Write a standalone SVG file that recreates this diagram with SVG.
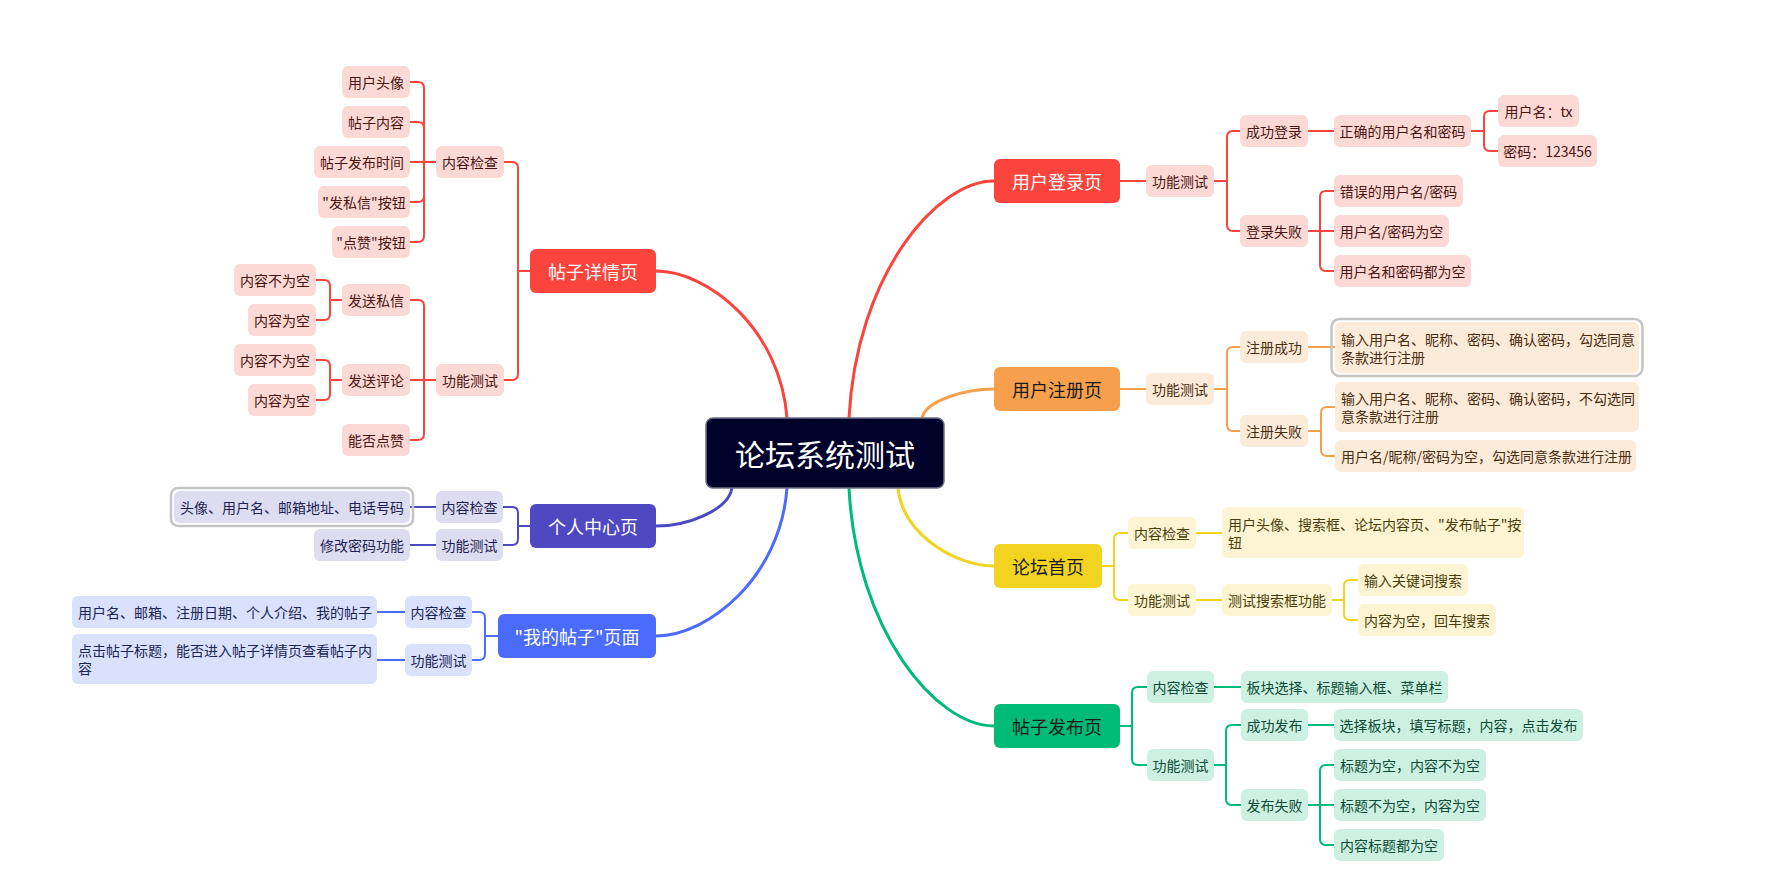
<svg xmlns="http://www.w3.org/2000/svg" width="1766" height="876" viewBox="0 0 1766 876">
<style>
text{font-family:"Noto Sans CJK SC","Noto Sans",sans-serif;dominant-baseline:central}
.t{font-size:14px}
.tb{font-size:18px;text-anchor:middle}
.c{text-anchor:middle}
.ln{fill:none;stroke-width:2;stroke-linecap:round;stroke-linejoin:round}
.cv{fill:none;stroke-width:3;stroke-linecap:round}
.sr{stroke:#fa443c}.so{stroke:#f6a04d}.sy{stroke:#f2d320}.sg{stroke:#00ba78}.sp{stroke:#4e49c0}.sb{stroke:#4a6bfc}
.rb{fill:#fa443c}.rc{fill:#fdd9d6}.rt{fill:#4a1410}
.ob{fill:#f6a04d}.oc{fill:#fdebd9}.ot{fill:#4a2c10}
.yb{fill:#f2d320}.yc{fill:#fcf4d2}.yt{fill:#4a3d0c}
.gb{fill:#00ba78}.gc{fill:#ccf0e2}.gt{fill:#0e4a34}
.pb{fill:#4e49c0}.pc{fill:#dddcf1}.pt{fill:#221f52}
.bb{fill:#4a6bfc}.bc{fill:#d9e1fd}.bt{fill:#1b2552}
.w{fill:#ffffff}.k{fill:#1a1a1a}
.sel{fill:none;stroke:#c4c4c4;stroke-width:2.5}
</style>
<rect width="1766" height="876" fill="#ffffff"/>
<g id="connectors">
<path class="cv sr" d="M787,418 C780.5,329.8 708.4,271 656,271"/>
<path class="cv sr" d="M849,418 C856.3,275.8 936,181 994,181"/>
<path class="cv so" d="M922,418 C925.6,400.6 965.2,389 994,389"/>
<path class="cv sy" d="M898,488 C902.8,534.8 955.6,566 994,566"/>
<path class="cv sg" d="M849,488 C856.3,630.8 936,726 994,726"/>
<path class="cv sp" d="M732,488 C728.2,510.8 686.4,526 656,526"/>
<path class="cv sb" d="M787,488 C780.5,576.8 708.4,636 656,636"/>

<path class="ln sr" d="M1120,181 H1146"/>
<path class="ln sr" d="M1214,181 H1227 V137 Q1227,131 1233,131 H1240"/>
<path class="ln sr" d="M1214,181 H1227 V225 Q1227,231 1233,231 H1240"/>
<path class="ln sr" d="M1308,131 H1334"/>
<path class="ln sr" d="M1471,131 H1484 V117 Q1484,111 1490,111 H1498"/>
<path class="ln sr" d="M1471,131 H1484 V145 Q1484,151 1490,151 H1498"/>
<path class="ln sr" d="M1308,231 H1320 V197 Q1320,191 1326,191 H1334"/>
<path class="ln sr" d="M1308,231 H1334"/>
<path class="ln sr" d="M1308,231 H1320 V265 Q1320,271 1326,271 H1334"/>

<path class="ln so" d="M1120,389 H1146"/>
<path class="ln so" d="M1214,389 H1227 V353 Q1227,347 1233,347 H1240"/>
<path class="ln so" d="M1214,389 H1227 V425 Q1227,431 1233,431 H1240"/>
<path class="ln so" d="M1308,347 H1335"/>
<path class="ln so" d="M1308,431 H1321 V413 Q1321,407 1327,407 H1335"/>
<path class="ln so" d="M1308,431 H1321 V450 Q1321,456 1327,456 H1335"/>

<path class="ln sy" d="M1102,566 H1114 V539 Q1114,533 1120,533 H1128"/>
<path class="ln sy" d="M1102,566 H1114 V594 Q1114,600 1120,600 H1128"/>
<path class="ln sy" d="M1196,533 H1222"/>
<path class="ln sy" d="M1196,600 H1222"/>
<path class="ln sy" d="M1332,600 H1344 V586 Q1344,580 1350,580 H1358"/>
<path class="ln sy" d="M1332,600 H1344 V614 Q1344,620 1350,620 H1358"/>

<path class="ln sg" d="M1120,726 H1132 V693 Q1132,687 1138,687 H1147"/>
<path class="ln sg" d="M1120,726 H1132 V759 Q1132,765 1138,765 H1147"/>
<path class="ln sg" d="M1214,687 H1241"/>
<path class="ln sg" d="M1214,765 H1226 V731 Q1226,725 1232,725 H1241"/>
<path class="ln sg" d="M1214,765 H1226 V799 Q1226,805 1232,805 H1241"/>
<path class="ln sg" d="M1308,725 H1334"/>
<path class="ln sg" d="M1308,805 H1320 V771 Q1320,765 1326,765 H1334"/>
<path class="ln sg" d="M1308,805 H1334"/>
<path class="ln sg" d="M1308,805 H1320 V839 Q1320,845 1326,845 H1334"/>

<path class="ln sr" d="M530,271 H518 V168 Q518,162 512,162 H504"/>
<path class="ln sr" d="M530,271 H518 V374 Q518,380 512,380 H504"/>
<path class="ln sr" d="M436,162 H424 V88 Q424,82 418,82 H410"/>
<path class="ln sr" d="M436,162 H424 V128 Q424,122 418,122 H410"/>
<path class="ln sr" d="M436,162 H410"/>
<path class="ln sr" d="M436,162 H424 V196 Q424,202 418,202 H410"/>
<path class="ln sr" d="M436,162 H424 V236 Q424,242 418,242 H410"/>
<path class="ln sr" d="M436,380 H424 V306 Q424,300 418,300 H410"/>
<path class="ln sr" d="M436,380 H410"/>
<path class="ln sr" d="M436,380 H424 V434 Q424,440 418,440 H410"/>
<path class="ln sr" d="M342,300 H330 V286 Q330,280 324,280 H316"/>
<path class="ln sr" d="M342,300 H330 V314 Q330,320 324,320 H316"/>
<path class="ln sr" d="M342,380 H330 V366 Q330,360 324,360 H316"/>
<path class="ln sr" d="M342,380 H330 V394 Q330,400 324,400 H316"/>

<path class="ln sp" d="M530,526 H518 V513 Q518,507 512,507 H503"/>
<path class="ln sp" d="M530,526 H518 V539 Q518,545 512,545 H503"/>
<path class="ln sp" d="M436,507 H410"/>
<path class="ln sp" d="M436,545 H410"/>

<path class="ln sb" d="M498,636 H485 V618 Q485,612 479,612 H472"/>
<path class="ln sb" d="M498,636 H485 V654 Q485,660 479,660 H472"/>
<path class="ln sb" d="M405,612 H377"/>
<path class="ln sb" d="M405,660 H377"/>
</g>

<g id="root">
<rect x="706" y="418" width="238" height="70" rx="7" fill="#01022a" stroke="#6f7088" stroke-width="1.5"/>
<text x="825" y="453" class="c w" font-size="30">论坛系统测试</text>
</g>

<!-- 用户登录页 -->
<g id="login"><rect x="994" y="159" width="126" height="44" rx="6" class="rb"/><text x="1057" y="181" class="tb w">用户登录页</text></g>
<g id="login-func"><rect x="1146" y="165" width="68" height="32" rx="6" class="rc"/><text x="1180" y="181" class="t c rt">功能测试</text></g>
<g id="login-ok"><rect x="1240" y="115" width="68" height="32" rx="6" class="rc"/><text x="1274" y="131" class="t c rt">成功登录</text></g>
<g id="login-ok-1"><rect x="1334" y="115" width="137" height="32" rx="6" class="rc"/><text x="1402.5" y="131" class="t c rt">正确的用户名和密码</text></g>
<g id="login-user"><rect x="1498" y="95" width="81" height="32" rx="6" class="rc"/><text x="1538.5" y="111" class="t c rt">用户名：tx</text></g>
<g id="login-pwd"><rect x="1498" y="135" width="99" height="32" rx="6" class="rc"/><text x="1547.5" y="151" class="t c rt">密码：123456</text></g>
<g id="login-fail"><rect x="1240" y="215" width="68" height="32" rx="6" class="rc"/><text x="1274" y="231" class="t c rt">登录失败</text></g>
<g id="login-fail-1"><rect x="1334" y="175" width="129" height="32" rx="6" class="rc"/><text x="1398.5" y="191" class="t c rt">错误的用户名/密码</text></g>
<g id="login-fail-2"><rect x="1334" y="215" width="115" height="32" rx="6" class="rc"/><text x="1391.5" y="231" class="t c rt">用户名/密码为空</text></g>
<g id="login-fail-3"><rect x="1334" y="255" width="137" height="32" rx="6" class="rc"/><text x="1402.5" y="271" class="t c rt">用户名和密码都为空</text></g>

<!-- 用户注册页 -->
<g id="reg"><rect x="994" y="367" width="126" height="44" rx="6" class="ob"/><text x="1057" y="389" class="tb k">用户注册页</text></g>
<g id="reg-func"><rect x="1146" y="373" width="68" height="32" rx="6" class="oc"/><text x="1180" y="389" class="t c ot">功能测试</text></g>
<g id="reg-ok"><rect x="1240" y="331" width="68" height="32" rx="6" class="oc"/><text x="1274" y="347" class="t c ot">注册成功</text></g>
<g id="reg-ok-1"><rect x="1331.5" y="319" width="311" height="57" rx="8" class="sel"/><rect x="1335" y="322" width="304" height="51" rx="6" class="oc"/><text class="t ot"><tspan x="1341" y="338.5">输入用户名、昵称、密码、确认密码，勾选同意</tspan><tspan x="1341" y="356.5">条款进行注册</tspan></text></g>
<g id="reg-fail"><rect x="1240" y="415" width="68" height="32" rx="6" class="oc"/><text x="1274" y="431" class="t c ot">注册失败</text></g>
<g id="reg-fail-1"><rect x="1335" y="382" width="304" height="50" rx="6" class="oc"/><text class="t ot"><tspan x="1341" y="398">输入用户名、昵称、密码、确认密码，不勾选同</tspan><tspan x="1341" y="416">意条款进行注册</tspan></text></g>
<g id="reg-fail-2"><rect x="1335" y="440" width="301" height="32" rx="6" class="oc"/><text x="1341" y="456" class="t ot">用户名/昵称/密码为空，勾选同意条款进行注册</text></g>

<!-- 论坛首页 -->
<g id="home"><rect x="994" y="544" width="108" height="44" rx="6" class="yb"/><text x="1048" y="566" class="tb k">论坛首页</text></g>
<g id="home-content"><rect x="1128" y="517" width="68" height="32" rx="6" class="yc"/><text x="1162" y="533" class="t c yt">内容检查</text></g>
<g id="home-content-1"><rect x="1222" y="507" width="302" height="51" rx="6" class="yc"/><text class="t yt"><tspan x="1228" y="523.5">用户头像、搜索框、论坛内容页、"发布帖子"按</tspan><tspan x="1228" y="541.5">钮</tspan></text></g>
<g id="home-func"><rect x="1128" y="584" width="68" height="32" rx="6" class="yc"/><text x="1162" y="600" class="t c yt">功能测试</text></g>
<g id="home-search"><rect x="1222" y="584" width="110" height="32" rx="6" class="yc"/><text x="1277" y="600" class="t c yt">测试搜索框功能</text></g>
<g id="home-search-1"><rect x="1358" y="564" width="110" height="32" rx="6" class="yc"/><text x="1413" y="580" class="t c yt">输入关键词搜索</text></g>
<g id="home-search-2"><rect x="1358" y="604" width="138" height="32" rx="6" class="yc"/><text x="1427" y="620" class="t c yt">内容为空，回车搜索</text></g>

<!-- 帖子发布页 -->
<g id="post"><rect x="994" y="704" width="126" height="44" rx="6" class="gb"/><text x="1057" y="726" class="tb k">帖子发布页</text></g>
<g id="post-content"><rect x="1147" y="671" width="67" height="32" rx="6" class="gc"/><text x="1180.5" y="687" class="t c gt">内容检查</text></g>
<g id="post-content-1"><rect x="1241" y="671" width="207" height="32" rx="6" class="gc"/><text x="1344.5" y="687" class="t c gt">板块选择、标题输入框、菜单栏</text></g>
<g id="post-func"><rect x="1147" y="749" width="67" height="32" rx="6" class="gc"/><text x="1180.5" y="765" class="t c gt">功能测试</text></g>
<g id="post-ok"><rect x="1241" y="709" width="67" height="32" rx="6" class="gc"/><text x="1274.5" y="725" class="t c gt">成功发布</text></g>
<g id="post-ok-1"><rect x="1334" y="709" width="249" height="32" rx="6" class="gc"/><text x="1458.5" y="725" class="t c gt">选择板块，填写标题，内容，点击发布</text></g>
<g id="post-fail"><rect x="1241" y="789" width="67" height="32" rx="6" class="gc"/><text x="1274.5" y="805" class="t c gt">发布失败</text></g>
<g id="post-fail-1"><rect x="1334" y="749" width="152" height="32" rx="6" class="gc"/><text x="1410" y="765" class="t c gt">标题为空，内容不为空</text></g>
<g id="post-fail-2"><rect x="1334" y="789" width="152" height="32" rx="6" class="gc"/><text x="1410" y="805" class="t c gt">标题不为空，内容为空</text></g>
<g id="post-fail-3"><rect x="1334" y="829" width="110" height="32" rx="6" class="gc"/><text x="1389" y="845" class="t c gt">内容标题都为空</text></g>

<!-- 帖子详情页 -->
<g id="detail"><rect x="530" y="249" width="126" height="44" rx="6" class="rb"/><text x="593" y="271" class="tb w">帖子详情页</text></g>
<g id="detail-content"><rect x="436" y="146" width="68" height="32" rx="6" class="rc"/><text x="470" y="162" class="t c rt">内容检查</text></g>
<g id="detail-c1"><rect x="342" y="66" width="68" height="32" rx="6" class="rc"/><text x="376" y="82" class="t c rt">用户头像</text></g>
<g id="detail-c2"><rect x="342" y="106" width="68" height="32" rx="6" class="rc"/><text x="376" y="122" class="t c rt">帖子内容</text></g>
<g id="detail-c3"><rect x="314" y="146" width="96" height="32" rx="6" class="rc"/><text x="362" y="162" class="t c rt">帖子发布时间</text></g>
<g id="detail-c4"><rect x="318" y="186" width="92" height="32" rx="6" class="rc"/><text x="364" y="202" class="t c rt">"发私信"按钮</text></g>
<g id="detail-c5"><rect x="332" y="226" width="78" height="32" rx="6" class="rc"/><text x="371" y="242" class="t c rt">"点赞"按钮</text></g>
<g id="detail-func"><rect x="436" y="364" width="68" height="32" rx="6" class="rc"/><text x="470" y="380" class="t c rt">功能测试</text></g>
<g id="detail-msg"><rect x="342" y="284" width="68" height="32" rx="6" class="rc"/><text x="376" y="300" class="t c rt">发送私信</text></g>
<g id="detail-msg-1"><rect x="234" y="264" width="82" height="32" rx="6" class="rc"/><text x="275" y="280" class="t c rt">内容不为空</text></g>
<g id="detail-msg-2"><rect x="248" y="304" width="68" height="32" rx="6" class="rc"/><text x="282" y="320" class="t c rt">内容为空</text></g>
<g id="detail-cmt"><rect x="342" y="364" width="68" height="32" rx="6" class="rc"/><text x="376" y="380" class="t c rt">发送评论</text></g>
<g id="detail-cmt-1"><rect x="234" y="344" width="82" height="32" rx="6" class="rc"/><text x="275" y="360" class="t c rt">内容不为空</text></g>
<g id="detail-cmt-2"><rect x="248" y="384" width="68" height="32" rx="6" class="rc"/><text x="282" y="400" class="t c rt">内容为空</text></g>
<g id="detail-like"><rect x="342" y="424" width="68" height="32" rx="6" class="rc"/><text x="376" y="440" class="t c rt">能否点赞</text></g>

<!-- 个人中心页 -->
<g id="profile"><rect x="530" y="504" width="126" height="44" rx="6" class="pb"/><text x="593" y="526" class="tb w">个人中心页</text></g>
<g id="profile-content"><rect x="436" y="491" width="67" height="32" rx="6" class="pc"/><text x="469.5" y="507" class="t c pt">内容检查</text></g>
<g id="profile-content-1"><rect x="171" y="488" width="242" height="38" rx="7" class="sel" stroke="#a8a8a8"/><rect x="174" y="491" width="236" height="32" rx="6" class="pc"/><text x="292" y="507" class="t c pt">头像、用户名、邮箱地址、电话号码</text></g>
<g id="profile-func"><rect x="436" y="529" width="67" height="32" rx="6" class="pc"/><text x="469.5" y="545" class="t c pt">功能测试</text></g>
<g id="profile-func-1"><rect x="314" y="529" width="96" height="32" rx="6" class="pc"/><text x="362" y="545" class="t c pt">修改密码功能</text></g>

<!-- 我的帖子页面 -->
<g id="myposts"><rect x="498" y="614" width="158" height="44" rx="6" class="bb"/><text x="577" y="636" class="tb w">"我的帖子"页面</text></g>
<g id="myposts-content"><rect x="405" y="596" width="67" height="32" rx="6" class="bc"/><text x="438.5" y="612" class="t c bt">内容检查</text></g>
<g id="myposts-content-1"><rect x="72" y="596" width="305" height="32" rx="6" class="bc"/><text x="78" y="612" class="t bt">用户名、邮箱、注册日期、个人介绍、我的帖子</text></g>
<g id="myposts-func"><rect x="405" y="644" width="67" height="32" rx="6" class="bc"/><text x="438.5" y="660" class="t c bt">功能测试</text></g>
<g id="myposts-func-1"><rect x="72" y="634" width="305" height="50" rx="6" class="bc"/><text class="t bt"><tspan x="78" y="650">点击帖子标题，能否进入帖子详情页查看帖子内</tspan><tspan x="78" y="668">容</tspan></text></g>
</svg>
